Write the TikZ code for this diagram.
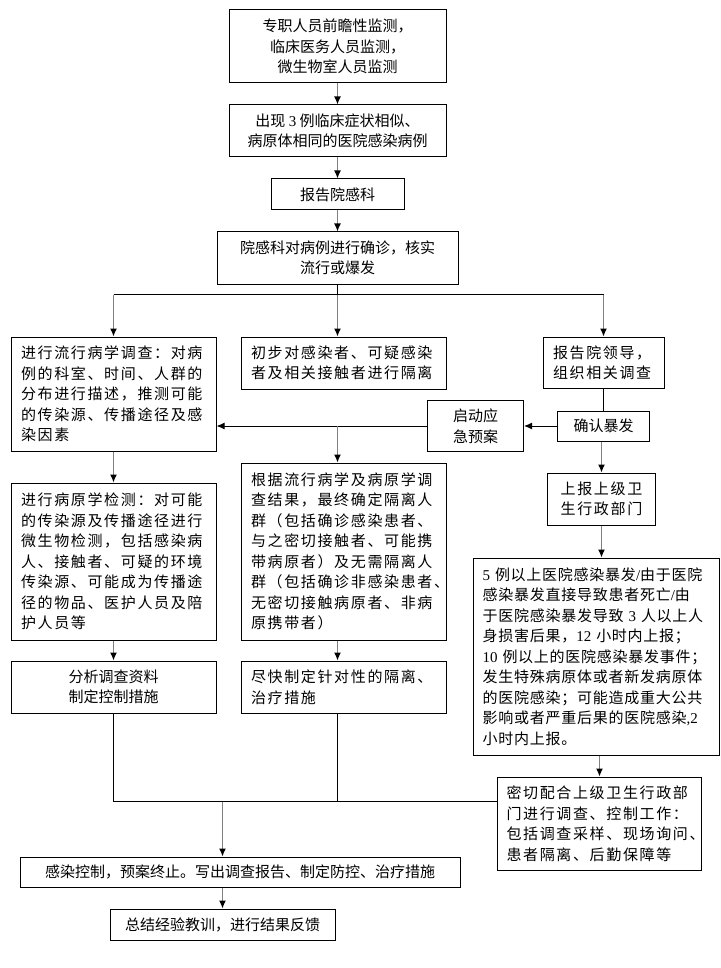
\documentclass[tikz,border=0pt]{standalone}
\usepackage{fontspec}
\setmainfont{Noto Sans CJK SC}
\newfontfamily\cjkwide[LetterSpace=11]{Noto Sans CJK SC}
\newfontfamily\cjkmid[LetterSpace=5]{Noto Sans CJK SC}
\newfontfamily\lat{Liberation Serif}
\usetikzlibrary{arrows.meta,positioning,calc}
\definecolor{lineGray}{RGB}{128,128,128}

\begin{document}
\begin{tikzpicture}[
    x=1pt,y=1pt,
    box/.style={draw,line width=1pt,inner sep=0pt,align=center,font=\fontsize{15}{20.5}\selectfont},
    wide/.style={box,inner xsep=10pt,align=left,font=\fontsize{15}{20.5}\selectfont\cjkwide},
    line/.style={line width=1pt},
    arrow/.style={-{Latex[length=8pt,width=7pt]},line width=1pt},
    down/.style={-{Latex[length=8pt,width=7pt,color=black]},line width=1.2pt,draw=lineGray}
  ]
    \useasboundingbox (0,0) rectangle (720,-968);
    \node[box,minimum width=217pt,minimum height=73pt] (mon) at (337.5,-46.5) {专职人员前瞻性监测，\\临床医务人员监测，\\微生物室人员监测};
    \node[box,below=21pt of mon,minimum width=217pt,minimum height=52pt] (cases) {出现~{\lat 3}~例临床症状相似、\\病原体相同的医院感染病例};
    \node[box,below=21pt of cases,minimum width=133pt,minimum height=31pt] (rep) {报告院感科};
    \node[box,below=21pt of rep,minimum width=241pt,minimum height=52pt] (verify) {院感科对病例进行确诊，核实\\流行或爆发};
    \coordinate[below=10pt of verify] (split);
    % three branches
    \node[wide,below=52pt of verify,xshift=6pt,text width=185pt,minimum height=52pt] (isol) {初步对感染者、可疑感染\\者及相关接触者进行隔离};
    \node[wide,left=24pt of isol.north west,anchor=north east,text width=185pt,minimum height=114pt] (epi) {进行流行病学调查：对病\\例的科室、时间、人群的\\分布进行描述，推测可能\\的传染源、传播途径及感\\染因素};
    \node[wide,right=96pt of isol.north east,anchor=north west,text width=101pt,minimum height=51pt] (lead) {报告院领导，\\组织相关调查};
    \node[box,below=22pt of lead,minimum width=92pt,minimum height=30pt] (outbreak) {确认暴发};
    \node[box,left=33pt of outbreak,minimum width=96pt,minimum height=51pt] (plan) {启动应\\急预案};
    \node[wide,below=73pt of isol,text width=185pt,minimum height=177pt] (detail) {根据流行病学及病原学调\\查结果，最终确定隔离人\\群（包括确诊感染患者、\\与之密切接触者、可能携\\带病原者）及无需隔离人\\群（包括确诊非感染患者、\\无密切接触病原者、非病\\原携带者）};
    \node[wide,below=31pt of epi,text width=185pt,minimum height=157pt] (lab) {进行病原学检测：对可能\\的传染源及传播途径进行\\微生物检测，包括感染病\\人、接触者、可疑的环境\\传染源、可能成为传播途\\径的物品、医护人员及陪\\护人员等};
    \node[box,below=20pt of lab,minimum width=205pt,minimum height=52pt] (analyse) {分析调查资料\\制定控制措施};
    \node[wide,below=20pt of detail,text width=185pt,minimum height=52pt] (treat) {尽快制定针对性的隔离、\\治疗措施};
    \node[box,below=31pt of outbreak,xshift=-2pt,minimum width=108pt,minimum height=52pt,font=\fontsize{15}{20.5}\selectfont\cjkwide] (upper) {上报上级卫\\生行政部门};
    \node[wide,below=32pt of upper,xshift=-5pt,text width=228pt,inner xsep=9pt,minimum height=197pt,font=\fontsize{15}{20.5}\selectfont\cjkmid] (rules) {{\lat 5}~例以上医院感染暴发{\lat /}由于医院\\感染暴发直接导致患者死亡{\lat /}由\\于医院感染暴发导致~{\lat 3}~人以上人\\身损害后果，{\lat 12}~小时内上报；\\{\lat 10}~例以上的医院感染暴发事件；\\发生特殊病原体或者新发病原体\\的医院感染；可能造成重大公共\\影响或者严重后果的医院感染{\lat ,2}\\小时内上报。};
    \node[wide,below=21pt of rules,xshift=3pt,inner xsep=9pt,text width=186pt,minimum height=93pt] (coop) {密切配合上级卫生行政部\\门进行调查、控制工作：\\包括调查采样、现场询问、\\患者隔离、后勤保障等};
    \node[box,below=143pt of analyse.south west,anchor=north west,xshift=9pt,minimum width=440pt,minimum height=30pt] (finish) {感染控制，预案终止。写出调查报告、制定防控、治疗措施};
    \node[box,below=21pt of finish,xshift=-17.5pt,minimum width=225pt,minimum height=31pt] (summary) {总结经验教训，进行结果反馈};
    \coordinate (join) at ($(coop.north west)+(0,-25pt)$);
    % connectors
    \draw[down] (mon) -- (cases);
    \draw[down] (cases) -- (rep);
    \draw[down] (rep) -- (verify);
    \draw[line] (verify) -- (split);
    \draw[line] (split -| epi) -- (split -| lead);
    \draw[down] (split -| epi) -- (epi);
    \draw[down] (split) -- (isol.north -| split);
    \draw[down] (split -| lead) -- (lead);
    \draw[line] (lead) -- (outbreak);
    \draw[arrow] (outbreak) -- (plan);
    \draw[arrow] (plan) -- (plan -| epi.east);
    \draw[down] (plan -| split) -- (detail.north -| split);
    \draw[down] (outbreak.south -| upper) -- (upper);
    \draw[down] (upper) -- (upper |- rules.north);
    \draw[down] (rules.south -| coop) -- (coop);
    \draw[down] (epi) -- (lab);
    \draw[down] (lab) -- (analyse);
    \draw[down] (detail.south -| split) -- (treat.north -| split);
    \draw[line] (analyse) |- (join);
    \draw[line] (treat.south -| split) -- (join -| split);
    \draw[down] (join -| summary) -- (finish.north -| summary);
    \draw[down] (finish.south -| summary) -- (summary);
\end{tikzpicture}
\end{document}
